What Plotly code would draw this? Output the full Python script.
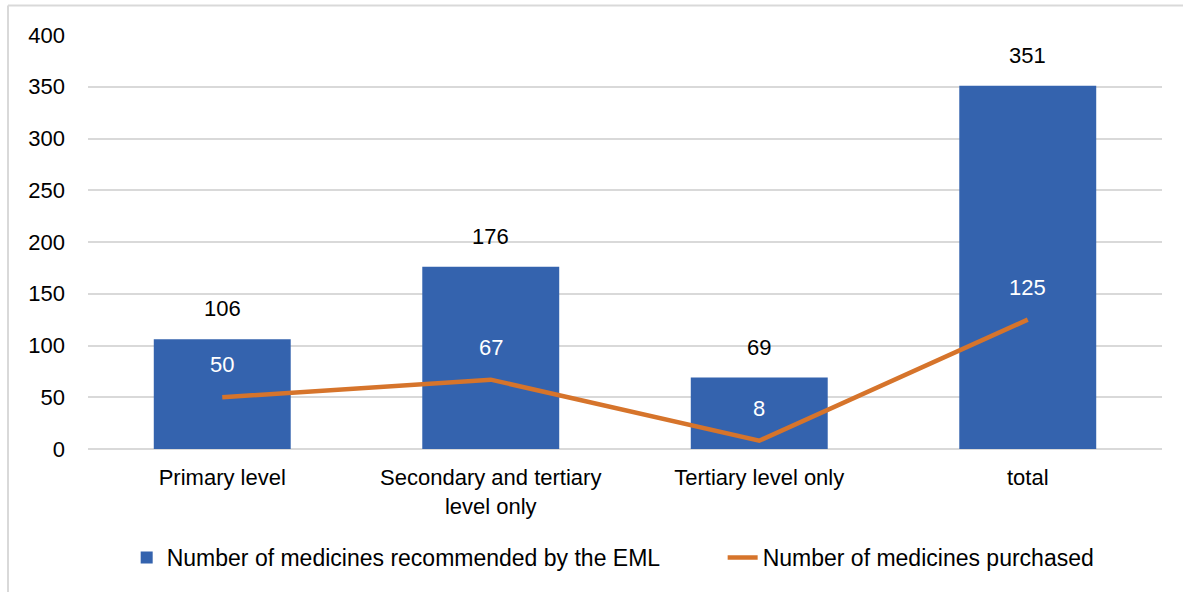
import plotly.graph_objects as go

categories = ["Primary level", "Secondary and tertiary<br>level only", "Tertiary level only", "total"]
recommended = [106, 176, 69, 351]
purchased = [50, 67, 8, 125]
y_ticks = [0, 50, 100, 150, 200, 250, 300, 350, 400]
series_names = ["Number of medicines recommended by the EML", "Number of medicines purchased"]

BLUE = "#3463AE"
ORANGE = "#D6742B"
FONT = "Liberation Sans, Arial, sans-serif"
PAD = "\u00a0" * 9  # extra spacing between legend entries

fig = go.Figure()
fig.add_trace(go.Bar(
    x=categories, y=recommended, name=series_names[0] + PAD,
    marker=dict(color=BLUE, line=dict(width=0)),
))
fig.add_trace(go.Scatter(
    x=categories, y=purchased, name=series_names[1],
    mode="lines", line=dict(color=ORANGE, width=4.5),
))

annotations = []
for c, v in zip(categories, recommended):
    annotations.append(dict(x=c, y=v, text=str(v), showarrow=False, yanchor="bottom",
                            yshift=16, font=dict(size=22, color="#000000", family=FONT)))
for c, v in zip(categories, purchased):
    annotations.append(dict(x=c, y=v, text=str(v), showarrow=False, yanchor="bottom",
                            yshift=18, font=dict(size=22, color="#FFFFFF", family=FONT)))

fig.update_layout(
    width=1183, height=592,
    margin=dict(l=88, r=21, t=35, b=143, autoexpand=False),
    paper_bgcolor="white", plot_bgcolor="white",
    bargap=0.49,
    font=dict(family=FONT, size=22, color="#000000"),
    xaxis=dict(showgrid=False, showline=False, ticks="", tickfont=dict(size=22),
               ticklabelstandoff=13, automargin=False),
    yaxis=dict(range=[0, 400], tickvals=y_ticks, showgrid=True, gridcolor="#D9D9D9", gridwidth=1.5,
               zeroline=True, zerolinecolor="#D9D9D9", zerolinewidth=1.5, tickfont=dict(size=22),
               ticks="", ticklabelstandoff=22, automargin=False),
    legend=dict(orientation="h", x=0.489, xanchor="center", y=-0.262, yanchor="middle",
                font=dict(size=23, family=FONT), itemwidth=30, tracegroupgap=0),
    annotations=annotations,
    shapes=[
        dict(type="line", xref="paper", yref="paper", x0=-0.0745, x1=-0.0745, y0=-0.5, y1=1.0713,
             line=dict(color="#D9D9D9", width=2), layer="below"),
        dict(type="line", xref="paper", yref="paper", x0=-0.0745, x1=1.05, y0=1.0713, y1=1.0713,
             line=dict(color="#D9D9D9", width=2), layer="below"),
    ],
    showlegend=True,
)

fig.write_html("out.html", config={"displayModeBar": False},
               post_script="document.body.style.margin='0';document.body.style.overflow='hidden';")
